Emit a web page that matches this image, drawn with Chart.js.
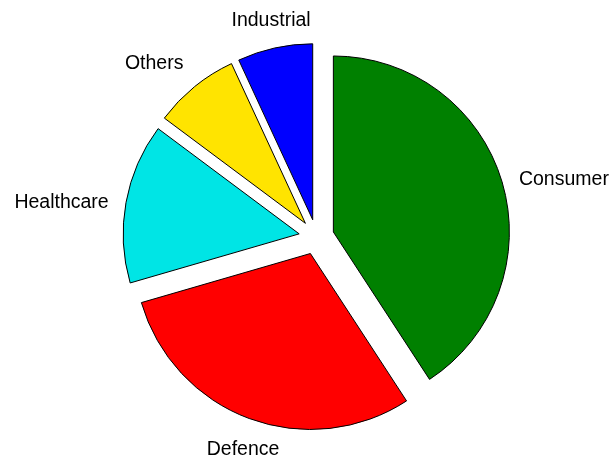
<!DOCTYPE html>
<html>
<head>
<meta charset="utf-8">
<script src="https://cdn.jsdelivr.net/npm/chart.js@4/dist/chart.umd.min.js"></script>
<style>
  body { margin: 0; background: #fff; }
  #wrap { width: 611px; height: 459px; }
</style>
</head>
<body>
<div id="wrap"><canvas id="pie"></canvas></div>
<script>
const sectors = ['Consumer', 'Defence', 'Healthcare', 'Others', 'Industrial'];
const shares = [40.8, 29.7, 14.7, 7.9, 6.9];
const sectorColors = ['#008000', '#ff0000', '#00e5e5', '#ffe400', '#0000ff'];

const explode = 0.1;     // every wedge pulled out by this fraction of the radius
const labelDist = 1.1;   // labels sit just past the rim

// push each wedge out along its middle angle
const explodePlugin = {
  id: 'explode',
  afterDatasetsUpdate(chart) {
    chart.getDatasetMeta(0).data.forEach(arc => {
      const mid = (arc.startAngle + arc.endAngle) / 2;
      const d = arc.outerRadius * explode;
      arc.x += Math.cos(mid) * d;
      arc.y += Math.sin(mid) * d;
    });
  }
};

// sector names outside the pie, anchored away from the wedge
const labelPlugin = {
  id: 'sliceLabels',
  afterDatasetsDraw(chart) {
    const ctx = chart.ctx;
    ctx.save();
    ctx.font = '19.5px "Liberation Sans", Arial, sans-serif';
    ctx.fillStyle = '#000';
    chart.getDatasetMeta(0).data.forEach((arc, i) => {
      const mid = (arc.startAngle + arc.endAngle) / 2;
      const dx = Math.cos(mid), dy = Math.sin(mid);
      const r = arc.outerRadius * labelDist;
      let nudge = 0;
      ctx.textAlign = dx > 0.5 ? 'left' : dx < -0.5 ? 'right' : 'center';
      if (dy > 0.5) { ctx.textBaseline = 'top'; nudge = 5; }
      else if (dy < -0.5) { ctx.textBaseline = 'bottom'; }
      else { ctx.textBaseline = 'middle'; nudge = 3; }
      ctx.fillText(chart.data.labels[i], arc.x + dx * r, arc.y + dy * r + nudge);
    });
    ctx.restore();
  }
};

new Chart(document.getElementById('pie'), {
  type: 'pie',
  data: {
    labels: sectors,
    datasets: [{
      data: shares,
      backgroundColor: sectorColors,
      borderColor: '#000',
      borderWidth: 1,
      borderJoinStyle: 'miter'
    }]
  },
  options: {
    responsive: true,
    maintainAspectRatio: false,
    animation: false,
    radius: 176,
    layout: { padding: { left: 22, right: 0, top: 15, bottom: 0 } },
    plugins: {
      legend: { display: false },
      tooltip: { enabled: false }
    },
    events: []
  },
  plugins: [explodePlugin, labelPlugin]
});
</script>
</body>
</html>
